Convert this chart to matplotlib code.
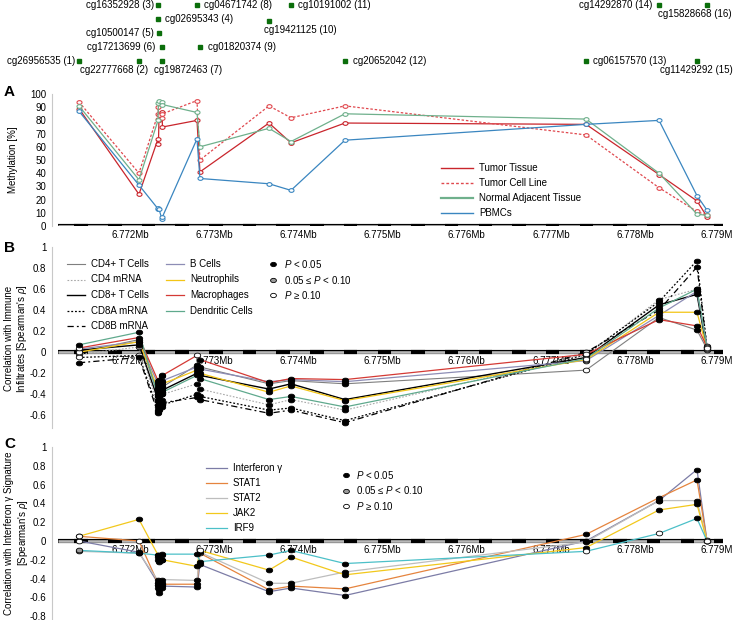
import numpy as np
import matplotlib
matplotlib.use('Agg')
import matplotlib.pyplot as plt
from matplotlib.lines import Line2D
from matplotlib.path import Path
from matplotlib.transforms import Affine2D

plt.rcParams['font.family'] = ['Liberation Sans', 'DejaVu Sans']
plt.rcParams['font.size'] = 7
plt.rcParams['axes.unicode_minus'] = False
plt.rcParams['mathtext.fontset'] = 'custom'
plt.rcParams['mathtext.rm'] = 'Liberation Sans'
plt.rcParams['mathtext.it'] = 'Liberation Sans:italic'

W, H = 733, 620

# CpG sites (position in Mb)
site_names = ['cg26956535', 'cg22777668', 'cg16352928', 'cg02695343', 'cg10500147',
              'cg17213699', 'cg19872463', 'cg04671742', 'cg01820374', 'cg19421125',
              'cg10191002', 'cg20652042', 'cg06157570', 'cg14292870', 'cg11429292',
              'cg15828668']
site_pos = [6.771394, 6.772107, 6.772333, 6.772338, 6.772344, 6.772380, 6.772386,
            6.772796, 6.772831, 6.773651, 6.773912, 6.774553, 6.777416, 6.778283,
            6.778734, 6.778853]

# panel A: methylation [%]
meth_labels = ['Tumor Tissue', 'Tumor Cell Line', 'Normal Adjacent Tissue', 'PBMCs']
meth_tumor = [89, 24, 66, 62, 80, 86, 75, 80, 41, 78, 63, 78, 77, 39, 19, 7]
meth_cellline = [94, 40, 85, 90, 84, 82, 85, 95, 50, 91, 82, 91, 69, 29, 11, 8]
meth_normal = [91, 35, 80, 93, 95, 94, 92, 86, 60, 74, 64, 85, 81, 40, 9, 8]
meth_pbmc = [87, 31, 13, 14, 13, 5, 7, 66, 36, 32, 27, 65, 77, 80, 23, 12]

# panel B: correlation with immune infiltrates
imm_labels = ['CD4+ T Cells', 'CD4 mRNA', 'CD8+ T Cells', 'CD8A mRNA', 'CD8B mRNA',
              'B Cells', 'Neutrophils', 'Macrophages', 'Dendritic Cells']
imm_cd4t = [0.00, 0.12, -0.40, -0.38, -0.42, -0.35, -0.33, -0.12, -0.14, -0.30, -0.27, -0.30, -0.17, 0.33, 0.21, 0.03]
imm_cd4m = [-0.02, 0.05, -0.50, -0.52, -0.48, -0.45, -0.40, -0.30, -0.35, -0.50, -0.45, -0.55, -0.03, 0.50, 0.60, 0.05]
imm_cd8t = [0.02, 0.07, -0.45, -0.42, -0.40, -0.38, -0.36, -0.20, -0.22, -0.35, -0.30, -0.45, -0.05, 0.45, 0.55, 0.02]
imm_cd8a = [-0.05, -0.03, -0.55, -0.57, -0.55, -0.52, -0.50, -0.40, -0.42, -0.55, -0.53, -0.65, -0.02, 0.48, 0.87, 0.05]
imm_cd8b = [-0.10, -0.05, -0.58, -0.56, -0.54, -0.50, -0.48, -0.43, -0.45, -0.58, -0.55, -0.67, 0.00, 0.40, 0.81, 0.04]
imm_bcell = [0.03, 0.10, -0.30, -0.33, -0.30, -0.28, -0.27, -0.14, -0.16, -0.28, -0.26, -0.28, -0.08, 0.35, 0.58, 0.06]
imm_neut = [0.00, 0.10, -0.35, -0.37, -0.34, -0.32, -0.30, -0.17, -0.20, -0.38, -0.32, -0.46, -0.07, 0.38, 0.38, 0.03]
imm_macro = [0.04, 0.14, -0.27, -0.28, -0.26, -0.23, -0.22, -0.03, -0.07, -0.29, -0.25, -0.26, -0.02, 0.31, 0.25, 0.05]
imm_dc = [0.07, 0.19, -0.42, -0.45, -0.42, -0.40, -0.38, -0.22, -0.25, -0.45, -0.42, -0.52, -0.06, 0.42, 0.60, 0.04]
# p-value class per point: s = P<0.05, m = 0.05<=P<0.10, n = P>=0.10
imm_p = ['nsssssssssssnssn', 'nmssssssssssnssn', 'nsssssssssssnssn', 'nnssssssssssnssn',
         'ssssssssssssnssn', 'nsssssssssssnssn', 'nsssssssssssnssn', 'nssssssnssssnssn',
         'ssssssssssssnssn']

# panel C: correlation with interferon gamma signature
ifn_labels = ['Interferon \u03b3', 'STAT1', 'STAT2', 'JAK2', 'IRF9']
ifn_ifng = [0.00, -0.12, -0.45, -0.50, -0.52, -0.50, -0.48, -0.49, -0.25, -0.54, -0.50, -0.58, 0.00, 0.43, 0.76, 0.00]
ifn_stat1 = [0.05, 0.00, -0.45, -0.47, -0.55, -0.47, -0.46, -0.46, -0.13, -0.52, -0.48, -0.51, 0.07, 0.46, 0.65, 0.00]
ifn_stat2 = [-0.11, -0.13, -0.42, -0.47, -0.50, -0.45, -0.41, -0.42, -0.12, -0.45, -0.45, -0.33, -0.01, 0.43, 0.43, 0.01]
ifn_jak2 = [0.05, 0.23, -0.15, -0.20, -0.22, -0.20, -0.20, -0.27, -0.10, -0.31, -0.17, -0.36, -0.07, 0.33, 0.39, 0.00]
ifn_irf9 = [-0.10, -0.13, -0.15, -0.17, -0.16, -0.15, -0.14, -0.14, -0.22, -0.15, -0.10, -0.24, -0.11, 0.08, 0.24, 0.00]
ifn_p = ['nssssssssssssssn', 'nnssssssnssssssn', 'mssssssssssssssn', 'nsssssssnssssssn',
         'msssssssssssnnsn']

# layout of the CpG name track (pixel rows, label side, label offset)
label_row = [61, 61, 5, 19, 33, 47, 61, 5, 47, 21, 5, 61, 61, 5, 61, 5]
label_side = ['L', 'B', 'L', 'R', 'L', 'L', 'B', 'R', 'R', 'B', 'R', 'R', 'R', 'L', 'B', 'B']
label_dx = [-4, -25, -4, 7, -5, -7, 26, 7, 8, 31, 7, 8, 7, -7, -1, -12]

X0, X1 = 6.771074, 6.779043
RULER0 = 6.771145


def px_rect(x0, y0, x1, y1):
    return [x0 / W, 1 - y1 / H, (x1 - x0) / W, (y1 - y0) / H]


def fx(x):
    return x / W


def fy(y):
    return 1 - y / H


ellipse = Path.unit_circle().transformed(Affine2D().scale(1.35, 1.0))


def draw_ruler(ax):
    ax.plot([RULER0, X1], [0, 0], color='black', lw=3.0, solid_capstyle='butt', zorder=1)
    ax.plot([RULER0, X1], [0, 0], color='#b8b8b8', lw=1.9, solid_capstyle='butt', zorder=1)
    for s in np.arange(6.77174 - 0.0012, X1, 0.0004):
        a, b = max(s, RULER0), min(s + 0.00016, X1)
        if b > a:
            ax.plot([a, b], [0, 0], color='black', lw=3.0, solid_capstyle='butt', zorder=1)
    for t in np.arange(6.772, 6.7795, 0.001):
        ax.annotate('%.3fMb' % t, (t, 0), xytext=(0, -3), textcoords='offset points',
                    ha='center', va='top', fontsize=7, annotation_clip=False, zorder=1)


def style_axes(ax, ylim, ticks):
    ax.set_xlim(X0, X1)
    ax.set_ylim(*ylim)
    for s in ['top', 'right', 'bottom']:
        ax.spines[s].set_visible(False)
    ax.spines['left'].set_color('#c8c8c8')
    ax.spines['left'].set_linewidth(0.8)
    ax.set_xticks([])
    ax.set_yticks(ticks)
    ax.set_yticklabels(['%g' % t for t in ticks])
    ax.tick_params(axis='y', length=0, pad=4, labelsize=7)
    ax.patch.set_alpha(0)


fig = plt.figure(figsize=(W / 100, H / 100), dpi=100)

# CpG track
ax0 = fig.add_axes(px_rect(52, 0, 723, 75))
ax0.set_xlim(X0, X1)
ax0.set_ylim(75, 0)
ax0.axis('off')
ax0.plot(site_pos, label_row, 's', color='#0b6e0b', ms=3.3, ls='none')
for i, name in enumerate(site_names):
    txt = '%s (%d)' % (name, i + 1)
    if label_side[i] == 'L':
        ha, dy = 'right', 0
    elif label_side[i] == 'R':
        ha, dy = 'left', 0
    else:
        ha, dy = 'center', -9
    ax0.annotate(txt, (site_pos[i], label_row[i]), xytext=(label_dx[i], dy),
                 textcoords='offset pixels', ha=ha, va='center', fontsize=7,
                 annotation_clip=False)

# panel A
axA = fig.add_axes(px_rect(52, 94, 723, 226))
style_axes(axA, (0, 100), list(range(0, 101, 10)))
draw_ruler(axA)
meth_series = [meth_tumor, meth_cellline, meth_normal, meth_pbmc]
meth_colors = ['#c9252c', '#e0484e', '#6fb08c', '#3a86c0']
meth_ls = ['-', (0, (2, 1.5)), '-', '-']
for vals, c, ls in zip(meth_series, meth_colors, meth_ls):
    axA.plot(site_pos, vals, color=c, ls=ls, lw=0.9, marker=ellipse, ms=3.6,
             mfc='white', mec=c, mew=0.8, zorder=3)

# panel B
axB = fig.add_axes(px_rect(52, 247, 723, 428))
style_axes(axB, (-0.72, 1.0), [1, 0.8, 0.6, 0.4, 0.2, 0, -0.2, -0.4, -0.6])
draw_ruler(axB)
imm_series = [imm_cd4t, imm_cd4m, imm_cd8t, imm_cd8a, imm_cd8b, imm_bcell, imm_neut, imm_macro, imm_dc]
imm_colors = ['#7f7f7f', '#a8a8a8', '#000000', '#000000', '#000000', '#8d8db5', '#f3c516', '#d43a35', '#5fa98d']
imm_ls = ['-', (0, (1.5, 1.5)), '-', (0, (1.5, 1.5)), (0, (5, 2.5, 1.5, 2.5))]
imm_ls = imm_ls + ['-'] * 4
imm_lw = [0.8, 0.8, 1.0, 0.9, 0.9, 0.9, 0.9, 0.9, 0.9]
p_face = {'s': 'black', 'm': '#9a9a9a', 'n': 'white'}


def draw_points(ax, series, pcls):
    for vals, pc in zip(series, pcls):
        for k in 'snm':
            idx = [i for i, ch in enumerate(pc) if ch == k]
            if not idx:
                continue
            ax.plot([site_pos[i] for i in idx], [vals[i] for i in idx], ls='none',
                    marker=ellipse, ms=4.6, mfc=p_face[k], mec='black', mew=0.6, zorder=4)


for vals, c, ls, lw in zip(imm_series, imm_colors, imm_ls, imm_lw):
    axB.plot(site_pos, vals, color=c, ls=ls, lw=lw, zorder=2)
draw_points(axB, imm_series, imm_p)

# panel C
axC = fig.add_axes(px_rect(52, 447, 723, 619))
style_axes(axC, (-0.83, 1.0), [1, 0.8, 0.6, 0.4, 0.2, 0, -0.2, -0.4, -0.6, -0.8])
draw_ruler(axC)
ifn_series = [ifn_ifng, ifn_stat1, ifn_stat2, ifn_jak2, ifn_irf9]
ifn_colors = ['#7c7ca6', '#e5843e', '#bdbdbd', '#f2c81c', '#4cc0c8']
for vals, c in zip(ifn_series, ifn_colors):
    axC.plot(site_pos, vals, color=c, lw=0.9, zorder=2)
draw_points(axC, ifn_series, ifn_p)


# legends (figure pixel coordinates)
def legend_line(x0, x1, y, color, ls='-', lw=0.9):
    fig.add_artist(Line2D([fx(x0), fx(x1)], [fy(y), fy(y)], color=color, ls=ls, lw=lw,
                          transform=fig.transFigure))


def legend_point(x, y, face):
    fig.add_artist(Line2D([fx(x)], [fy(y)], ls='none', marker=ellipse, ms=4.2, mfc=face,
                          mec='black', mew=0.6, transform=fig.transFigure))


for i, lab in enumerate(meth_labels):
    y = 168 + 15 * i
    legend_line(441, 473, y, meth_colors[i], meth_ls[i], 1.0 if i != 2 else 1.6)
    fig.text(fx(479), fy(y), lab, va='center', fontsize=7)

for i, lab in enumerate(imm_labels):
    col, row = (0, i) if i < 5 else (1, i - 5)
    x0 = 67 if col == 0 else 166
    y = 264 + 15.5 * row
    legend_line(x0, x0 + 18, y, imm_colors[i], imm_ls[i], imm_lw[i])
    fig.text(fx(x0 + 24), fy(y), lab, va='center', fontsize=7)

p_labels = ['$\\it{P}$ < 0.05', '0.05 \u2264 $\\it{P}$ < 0.10', '$\\it{P}$ \u2265 0.10']
for i, (lab, k) in enumerate(zip(p_labels, 'smn')):
    y = 264 + 15.5 * i
    legend_point(273, y, p_face[k])
    fig.text(fx(284), fy(y), lab, va='center', fontsize=7)

for i, lab in enumerate(ifn_labels):
    y = 468 + 15 * i
    legend_line(206, 227, y, ifn_colors[i])
    fig.text(fx(233), fy(y), lab, va='center', fontsize=7)

for i, (lab, k) in enumerate(zip(p_labels, 'smn')):
    y = 475 + 15.5 * i
    legend_point(346, y, p_face[k])
    fig.text(fx(356), fy(y), lab, va='center', fontsize=7)

# axis titles and panel letters
fig.text(fx(13), fy(160), 'Methylation [%]', rotation=90, ha='center', va='center', fontsize=7)
fig.text(fx(17), fy(338), "Correlation with Immune\nInfiltrates [Spearman's $\\it{\\rho}$]",
         rotation=90, ha='center', va='center', fontsize=7, linespacing=1.1)
fig.text(fx(17), fy(533), "Correlation with Interferon \u03b3 Signature\n[Spearman's $\\it{\\rho}$]",
         rotation=90, ha='center', va='center', fontsize=7, linespacing=1.1)
for lab, y in zip('ABC', [92, 248, 444]):
    fig.text(fx(4), fy(y), lab, fontsize=11, fontweight='bold', va='center')

fig.savefig('out.png', dpi=100)
